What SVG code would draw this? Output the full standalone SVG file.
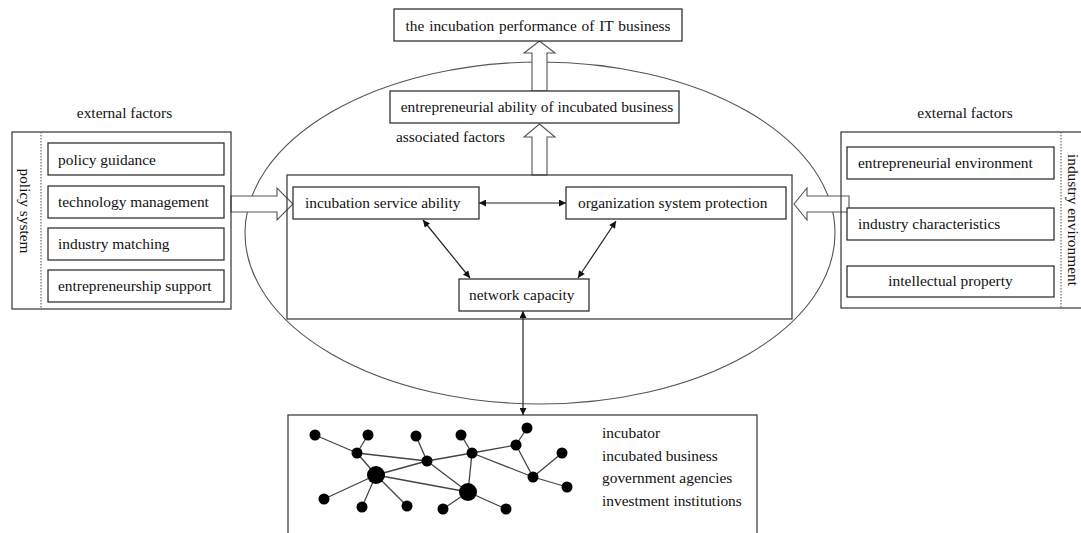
<svg xmlns="http://www.w3.org/2000/svg" width="1081" height="533" viewBox="0 0 1081 533">
<defs>
<style>
text{font-family:"Liberation Serif","Times New Roman",serif;font-size:15.4px;fill:#111}
.box{fill:#fff;stroke:#222;stroke-width:1.2}
.panel{fill:none;stroke:#333;stroke-width:1.2}
.dot{stroke:#666;stroke-width:1.2;stroke-dasharray:1.5 1.5}
.block{fill:#fff;stroke:#555;stroke-width:1.1}
.rel{stroke:#222;stroke-width:1.2;fill:none;marker-start:url(#ah);marker-end:url(#ah)}
.edge{stroke:#444;stroke-width:1.3}
.n{fill:#000}
.mid{text-anchor:middle}
</style>
<marker id="ah" viewBox="0 0 10 10" refX="10" refY="5" markerWidth="8" markerHeight="7" markerUnits="userSpaceOnUse" orient="auto-start-reverse">
<path d="M0,0 L10,5 L0,10 z" fill="#111"/>
</marker>
</defs>
<rect width="1081" height="533" fill="#fff"/>

<g id="ellipse-associated">
<ellipse cx="540" cy="233" rx="295" ry="171" fill="none" stroke="#555" stroke-width="1.1"/>
<text x="396" y="142">associated factors</text>
</g>

<g id="connectors">
<polygon class="block" points="532,91 532,53 524,53 539.5,41 555,53 547,53 547,91"/>
<polygon class="block" points="532,175 532,137 524,137 539.5,124 555,137 547,137 547,175"/>
<polygon class="block" points="231,196 277,196 277,188 293,204 277,220 277,212 231,212"/>
<polygon class="block" points="849,196 807,196 807,188 794,204 807,220 807,212 849,212"/>
<line class="rel" x1="479" y1="203" x2="566" y2="203"/>
<line class="rel" x1="423" y1="220" x2="470" y2="278"/>
<line class="rel" x1="616" y1="221" x2="578" y2="278"/>
<line class="rel" x1="523" y1="311" x2="523" y2="415"/>
</g>

<g id="performance">
<rect class="box" x="394" y="9" width="288" height="32"/>
<text class="mid" x="538" y="31" word-spacing="1">the incubation performance of IT business</text>
</g>

<g id="entrepreneurial-ability">
<rect class="box" x="390" y="91" width="289" height="32"/>
<text class="mid" x="537" y="112">entrepreneurial ability of incubated business</text>
</g>

<g id="core">
<rect class="panel" x="287" y="175" width="505" height="144"/>
</g>

<g id="incubation-service">
<rect class="box" x="293" y="187" width="186" height="32"/>
<text x="305" y="208">incubation service ability</text>
</g>

<g id="organization-system">
<rect class="box" x="566" y="187" width="220" height="32"/>
<text x="578" y="208">organization system protection</text>
</g>

<g id="network-capacity">
<rect class="box" x="459" y="279" width="130" height="32"/>
<text x="469" y="300">network capacity</text>
</g>

<g id="policy-system">
<text class="mid" x="124.5" y="118">external factors</text>
<rect class="panel" x="12" y="132" width="219" height="177"/>
<line class="dot" x1="41" y1="132" x2="41" y2="309"/>
<text class="mid" dominant-baseline="central" transform="translate(25,211) rotate(90)">policy system</text>
</g>
<g id="policy-guidance">
<rect class="box" x="48" y="143" width="176" height="32"/>
<text x="58" y="165">policy guidance</text>
</g>
<g id="technology-management">
<rect class="box" x="48" y="186" width="176" height="32"/>
<text x="58" y="207">technology management</text>
</g>
<g id="industry-matching">
<rect class="box" x="48" y="228" width="176" height="32"/>
<text x="58" y="249">industry matching</text>
</g>
<g id="entrepreneurship-support">
<rect class="box" x="48" y="270" width="176" height="32"/>
<text x="58" y="291">entrepreneurship support</text>
</g>

<g id="industry-environment">
<text class="mid" x="965" y="118">external factors</text>
<rect class="panel" x="841" y="132" width="250" height="176"/>
<line class="dot" x1="1061" y1="132" x2="1061" y2="308"/>
<text class="mid" dominant-baseline="central" transform="translate(1073,220) rotate(90)">industry environment</text>
</g>
<g id="entrepreneurial-environment">
<rect class="box" x="847" y="147" width="207" height="32"/>
<text x="858" y="168">entrepreneurial environment</text>
</g>
<g id="industry-characteristics">
<rect class="box" x="847" y="208" width="207" height="32"/>
<text x="858" y="229">industry characteristics</text>
</g>
<g id="intellectual-property">
<rect class="box" x="847" y="266" width="207" height="31"/>
<text class="mid" x="950.5" y="286">intellectual property</text>
</g>

<g id="network">
<rect class="panel" x="288" y="415" width="469" height="130"/>
<g id="network-edges">
<line class="edge" x1="315" y1="435" x2="357" y2="453"/>
<line class="edge" x1="368" y1="435" x2="357" y2="453"/>
<line class="edge" x1="357" y1="453" x2="427" y2="461"/>
<line class="edge" x1="357" y1="453" x2="376" y2="475"/>
<line class="edge" x1="416" y1="436" x2="427" y2="461"/>
<line class="edge" x1="427" y1="461" x2="376" y2="475"/>
<line class="edge" x1="427" y1="461" x2="472" y2="453"/>
<line class="edge" x1="427" y1="461" x2="468" y2="492"/>
<line class="edge" x1="461" y1="435" x2="472" y2="453"/>
<line class="edge" x1="472" y1="453" x2="516" y2="445"/>
<line class="edge" x1="472" y1="453" x2="468" y2="492"/>
<line class="edge" x1="472" y1="453" x2="533" y2="477"/>
<line class="edge" x1="527" y1="428" x2="516" y2="445"/>
<line class="edge" x1="516" y1="445" x2="533" y2="477"/>
<line class="edge" x1="562" y1="453" x2="533" y2="477"/>
<line class="edge" x1="533" y1="477" x2="567" y2="487"/>
<line class="edge" x1="376" y1="475" x2="468" y2="492"/>
<line class="edge" x1="376" y1="475" x2="324" y2="499"/>
<line class="edge" x1="376" y1="475" x2="362" y2="507"/>
<line class="edge" x1="376" y1="475" x2="407" y2="506"/>
<line class="edge" x1="468" y1="492" x2="443" y2="509"/>
<line class="edge" x1="468" y1="492" x2="506" y2="509"/>
</g>
<g id="network-nodes">
<circle class="n" cx="315" cy="435" r="5.5"/>
<circle class="n" cx="368" cy="435" r="5.5"/>
<circle class="n" cx="416" cy="436" r="5.5"/>
<circle class="n" cx="461" cy="435" r="5.5"/>
<circle class="n" cx="527" cy="428" r="5.5"/>
<circle class="n" cx="357" cy="453" r="5.5"/>
<circle class="n" cx="427" cy="461" r="5.5"/>
<circle class="n" cx="472" cy="453" r="5.5"/>
<circle class="n" cx="516" cy="445" r="5.5"/>
<circle class="n" cx="562" cy="453" r="5.5"/>
<circle class="n" cx="376" cy="475" r="9"/>
<circle class="n" cx="533" cy="477" r="5.5"/>
<circle class="n" cx="468" cy="492" r="9"/>
<circle class="n" cx="567" cy="487" r="5.5"/>
<circle class="n" cx="324" cy="499" r="5.5"/>
<circle class="n" cx="362" cy="507" r="5.5"/>
<circle class="n" cx="407" cy="506" r="5.5"/>
<circle class="n" cx="443" cy="509" r="5.5"/>
<circle class="n" cx="506" cy="509" r="5.5"/>
</g>
<text x="602" y="438">incubator</text>
<text x="602" y="461">incubated business</text>
<text x="602" y="483">government agencies</text>
<text x="602" y="506">investment institutions</text>
</g>
</svg>
